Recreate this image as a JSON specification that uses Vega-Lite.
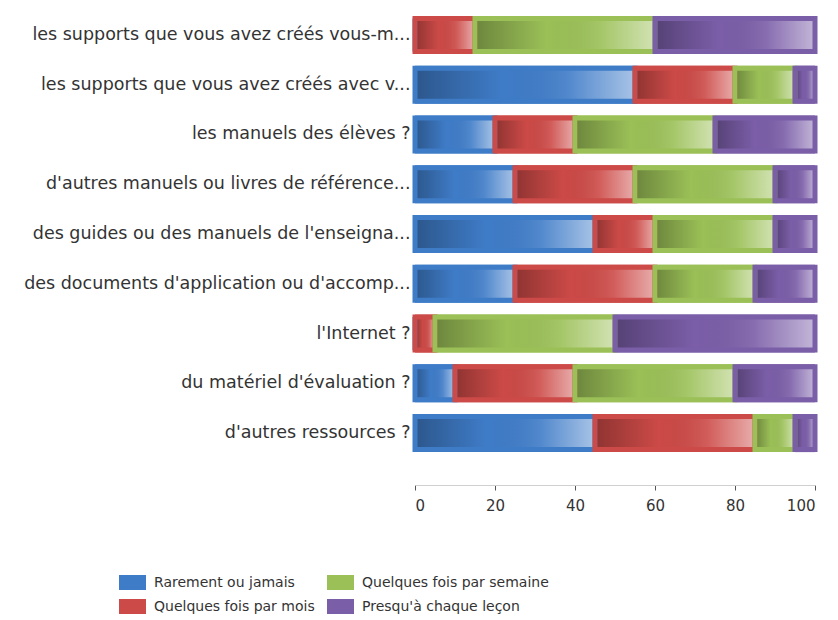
{
  "$schema": "https://vega.github.io/schema/vega-lite/v6.json",
  "autosize": {"type": "none"},
  "padding": {"left": 415, "top": 10, "right": 23, "bottom": 162},
  "width": 400,
  "height": 448,
  "background": "white",
  "config": {"view": {"stroke": null}, "font": "DejaVu Sans"},
  "data": {"values": [
    {"q": "les supports que vous avez créés vous-m...", "s": "Rarement ou jamais", "r": 1, "v": 0},
    {"q": "les supports que vous avez créés vous-m...", "s": "Quelques fois par mois", "r": 2, "v": 15},
    {"q": "les supports que vous avez créés vous-m...", "s": "Quelques fois par semaine", "r": 3, "v": 45},
    {"q": "les supports que vous avez créés vous-m...", "s": "Presqu'à chaque leçon", "r": 4, "v": 40},
    {"q": "les supports que vous avez créés avec v...", "s": "Rarement ou jamais", "r": 1, "v": 55},
    {"q": "les supports que vous avez créés avec v...", "s": "Quelques fois par mois", "r": 2, "v": 25},
    {"q": "les supports que vous avez créés avec v...", "s": "Quelques fois par semaine", "r": 3, "v": 15},
    {"q": "les supports que vous avez créés avec v...", "s": "Presqu'à chaque leçon", "r": 4, "v": 5},
    {"q": "les manuels des élèves ?", "s": "Rarement ou jamais", "r": 1, "v": 20},
    {"q": "les manuels des élèves ?", "s": "Quelques fois par mois", "r": 2, "v": 20},
    {"q": "les manuels des élèves ?", "s": "Quelques fois par semaine", "r": 3, "v": 35},
    {"q": "les manuels des élèves ?", "s": "Presqu'à chaque leçon", "r": 4, "v": 25},
    {"q": "d'autres manuels ou livres de référence...", "s": "Rarement ou jamais", "r": 1, "v": 25},
    {"q": "d'autres manuels ou livres de référence...", "s": "Quelques fois par mois", "r": 2, "v": 30},
    {"q": "d'autres manuels ou livres de référence...", "s": "Quelques fois par semaine", "r": 3, "v": 35},
    {"q": "d'autres manuels ou livres de référence...", "s": "Presqu'à chaque leçon", "r": 4, "v": 10},
    {"q": "des guides ou des manuels de l'enseigna...", "s": "Rarement ou jamais", "r": 1, "v": 45},
    {"q": "des guides ou des manuels de l'enseigna...", "s": "Quelques fois par mois", "r": 2, "v": 15},
    {"q": "des guides ou des manuels de l'enseigna...", "s": "Quelques fois par semaine", "r": 3, "v": 30},
    {"q": "des guides ou des manuels de l'enseigna...", "s": "Presqu'à chaque leçon", "r": 4, "v": 10},
    {"q": "des documents d'application ou d'accomp...", "s": "Rarement ou jamais", "r": 1, "v": 25},
    {"q": "des documents d'application ou d'accomp...", "s": "Quelques fois par mois", "r": 2, "v": 35},
    {"q": "des documents d'application ou d'accomp...", "s": "Quelques fois par semaine", "r": 3, "v": 25},
    {"q": "des documents d'application ou d'accomp...", "s": "Presqu'à chaque leçon", "r": 4, "v": 15},
    {"q": "l'Internet ?", "s": "Rarement ou jamais", "r": 1, "v": 0},
    {"q": "l'Internet ?", "s": "Quelques fois par mois", "r": 2, "v": 5},
    {"q": "l'Internet ?", "s": "Quelques fois par semaine", "r": 3, "v": 45},
    {"q": "l'Internet ?", "s": "Presqu'à chaque leçon", "r": 4, "v": 50},
    {"q": "du matériel d'évaluation ?", "s": "Rarement ou jamais", "r": 1, "v": 10},
    {"q": "du matériel d'évaluation ?", "s": "Quelques fois par mois", "r": 2, "v": 30},
    {"q": "du matériel d'évaluation ?", "s": "Quelques fois par semaine", "r": 3, "v": 40},
    {"q": "du matériel d'évaluation ?", "s": "Presqu'à chaque leçon", "r": 4, "v": 20},
    {"q": "d'autres ressources ?", "s": "Rarement ou jamais", "r": 1, "v": 45},
    {"q": "d'autres ressources ?", "s": "Quelques fois par mois", "r": 2, "v": 40},
    {"q": "d'autres ressources ?", "s": "Quelques fois par semaine", "r": 3, "v": 10},
    {"q": "d'autres ressources ?", "s": "Presqu'à chaque leçon", "r": 4, "v": 5}
  ]},
  "encoding": {
    "y": {
      "field": "q", "type": "nominal", "sort": null,
      "scale": {"paddingInner": 0.24, "paddingOuter": 0.12},
      "axis": {"title": null, "domain": false, "ticks": false, "labelPadding": 5, "labelFontSize": 17.5, "labelColor": "#333333", "labelLimit": 420}
    },
    "x": {
      "field": "v", "type": "quantitative", "stack": "zero",
      "scale": {"domain": [0, 100], "nice": false},
      "axis": {"title": null, "values": [0, 20, 40, 60, 80, 100], "grid": false, "offset": 27, "domainColor": "#d0d0d0", "tickColor": "#555555", "tickSize": 5, "labelFontSize": 15, "labelColor": "#333333", "labelPadding": 8}
    },
    "order": {"field": "r", "type": "quantitative"}
  },
  "layer": [
    {
      "mark": {"type": "bar", "size": 38},
      "encoding": {
        "color": {
          "field": "s", "type": "nominal",
          "scale": {
            "domain": ["Rarement ou jamais", "Quelques fois par semaine", "Quelques fois par mois", "Presqu'à chaque leçon"],
            "range": ["#3f7cc8", "#9bc057", "#cc4a47", "#7b5ea8"]
          },
          "legend": {
            "title": null, "orient": "none", "legendX": -290, "legendY": 565,
            "direction": "horizontal", "columns": 2, "gridAlign": "each",
            "columnPadding": 12, "rowPadding": 9,
            "symbolType": "M-1.8,-1H1.8V1H-1.8Z", "symbolSize": 225, "symbolStrokeWidth": 0, "symbolOpacity": 1,
            "labelFontSize": 14, "labelColor": "#333333", "labelOffset": 14, "labelLimit": 300
          }
        }
      }
    },
    {
      "mark": {
        "type": "bar", "size": 33, "strokeWidth": 5,
        "fill": {
          "gradient": "linear", "x1": 0, "y1": 0, "x2": 1, "y2": 0,
          "stops": [
            {"offset": 0, "color": "rgba(0,0,0,0.3)"},
            {"offset": 0.4, "color": "rgba(0,0,0,0.0)"},
            {"offset": 0.7, "color": "rgba(255,255,255,0.1)"},
            {"offset": 1, "color": "rgba(255,255,255,0.55)"}
          ]
        }
      },
      "encoding": {
        "stroke": {
          "field": "s", "type": "nominal",
          "scale": {
            "domain": ["Rarement ou jamais", "Quelques fois par semaine", "Quelques fois par mois", "Presqu'à chaque leçon"],
            "range": ["#3f7cc8", "#9bc057", "#cc4a47", "#7b5ea8"]
          },
          "legend": null
        }
      }
    }
  ]
}
